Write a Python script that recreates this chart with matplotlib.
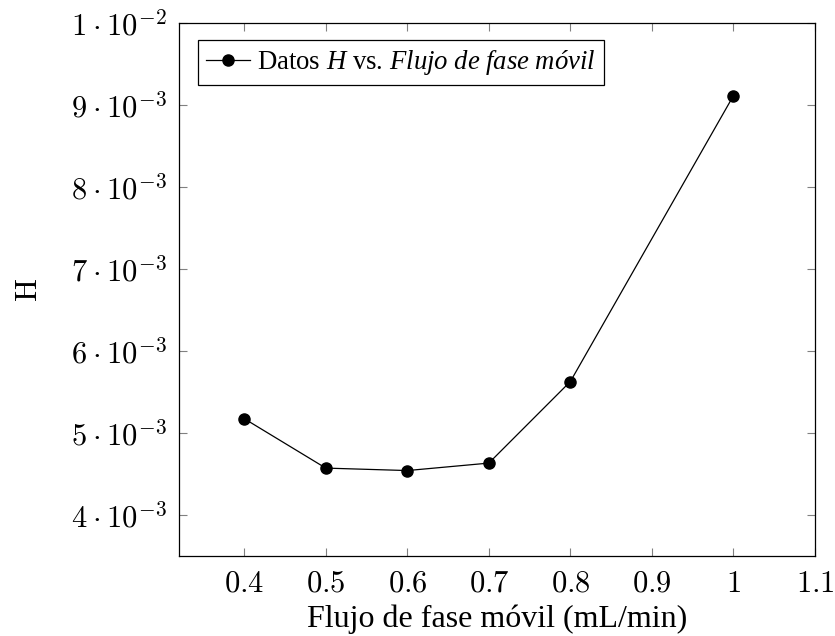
import matplotlib
matplotlib.use("Agg")
import matplotlib.pyplot as plt
from matplotlib.font_manager import FontProperties
from matplotlib.ticker import FixedLocator, FuncFormatter

# flujo de fase movil (mL/min) y altura de plato H
flujo = [0.4, 0.5, 0.6, 0.7, 0.8, 1.0]
altura_h = [5.175e-3, 4.572e-3, 4.542e-3, 4.633e-3, 5.628e-3, 9.114e-3]

x_ticks = [0.4, 0.5, 0.6, 0.7, 0.8, 0.9, 1.0, 1.1]
y_ticks = [4e-3, 5e-3, 6e-3, 7e-3, 8e-3, 9e-3, 1e-2]

# numeros en Computer Modern, textos en Times (Liberation Serif)
plt.rcParams['mathtext.fontset'] = 'cm'
plt.rcParams['mathtext.rm'] = 'Liberation Serif'
plt.rcParams['mathtext.it'] = 'Liberation Serif:italic'
serif = ['Liberation Serif', 'DejaVu Serif']

fig = plt.figure(figsize=(8.35, 6.36), dpi=100)
ax = fig.add_axes([179/835, 1 - 556/636, (815 - 179)/835, (556 - 23)/636])

ax.plot(flujo, altura_h, color='black', lw=0.9, marker='o', ms=8,
        label=r'Datos $\mathit{H}$ vs. $\mathit{Flujo\ de\ fase\ móvil}$')

ax.set_xlim(0.32, 1.1)
ax.set_ylim(3.5e-3, 1e-2)


def fmt_x(v, pos):
    return r'$%s$' % ('%g' % round(v, 2))


def fmt_y(v, pos):
    if abs(v - 1e-2) < 1e-9:
        return r'$1\:\cdot\:10^{-2}$'
    return r'$%d\:\cdot\:10^{-3}$' % round(v * 1000)


ax.xaxis.set_major_locator(FixedLocator(x_ticks))
ax.yaxis.set_major_locator(FixedLocator(y_ticks))
ax.xaxis.set_major_formatter(FuncFormatter(fmt_x))
ax.yaxis.set_major_formatter(FuncFormatter(fmt_y))

ax.tick_params(axis='both', which='major', direction='in', length=6,
               width=0.8, color='#808080', top=True, right=True,
               labelsize=22, pad=9)
for sp in ax.spines.values():
    sp.set_linewidth(0.9)

ax.set_xlabel('Flujo de fase móvil (mL/min)', family=serif, fontsize=23,
              labelpad=5)
ax.set_ylabel(r'$\mathrm{H}$', labelpad=20,
              fontproperties=FontProperties(size=22, math_fontfamily='cm'))

leg_font = FontProperties(family=serif, size=19.3, math_fontfamily='custom')
leg = ax.legend(loc='upper left', bbox_to_anchor=(0.03, 0.968),
                prop=leg_font, fancybox=False, edgecolor='black',
                framealpha=1, handlelength=1.65, handletextpad=0.25,
                borderpad=0.3, borderaxespad=0)
leg.get_frame().set_linewidth(0.9)

fig.savefig('out.png', dpi=100)
